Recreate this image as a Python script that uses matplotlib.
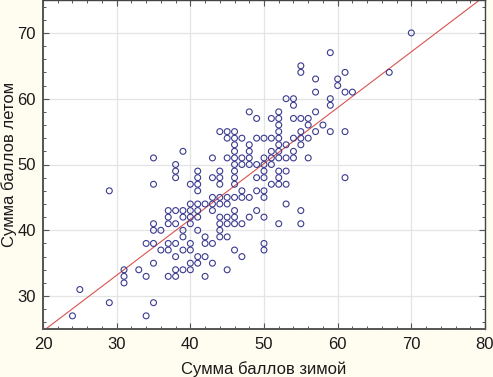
import matplotlib
matplotlib.use("Agg")
import matplotlib.pyplot as plt
from matplotlib.ticker import MultipleLocator

# Data: winter score (x) -> list of summer scores (y)
winter_cols = [24, 25, 29, 31, 33, 34, 35, 36, 37, 38, 39, 40, 41, 42, 43, 44, 45, 46,
               47, 48, 49, 50, 51, 52, 53, 54, 55, 56, 57, 58, 59, 60, 61, 62, 67, 70]
summer_vals = [
    [27],
    [31],
    [29, 46],
    [32, 33, 34],
    [34],
    [27, 33, 38],
    [29, 35, 38, 40, 41, 47, 51],
    [37, 40],
    [33, 37, 38, 41, 42, 43],
    [33, 34, 36, 38, 41, 43, 48, 49, 50],
    [34, 37, 39, 40, 42, 43, 52],
    [34, 35, 37, 38, 41, 42, 43, 44, 47],
    [35, 36, 40, 42, 43, 44, 46, 47, 48, 49],
    [33, 36, 38, 39, 44],
    [35, 38, 43, 44, 45, 48, 51],
    [39, 40, 41, 42, 44, 45, 47, 48, 49, 55],
    [34, 39, 41, 42, 44, 45, 51, 54, 55],
    [37, 41, 42, 43, 45, 47, 48, 49, 50, 51, 52, 53, 54, 55],
    [36, 41, 45, 46, 50, 51, 54],
    [42, 45, 50, 51, 52, 53, 58],
    [43, 46, 48, 50, 54, 57],
    [37, 38, 42, 45, 46, 48, 49, 50, 51, 54],
    [47, 50, 51, 52, 54, 57],
    [41, 47, 48, 49, 51, 52, 53, 54, 55, 56, 57, 58],
    [44, 47, 49, 51, 53, 60],
    [51, 52, 54, 57, 59, 60],
    [41, 43, 53, 54, 55, 57, 64, 65],
    [51, 54, 56, 57],
    [55, 58, 61, 63],
    [56],
    [55, 59, 60, 67],
    [62, 63],
    [48, 55, 61, 64],
    [61],
    [64],
    [70],
]
# regression line (intercept, slope)
fit_intercept = 7.7
fit_slope = 0.849

x_label = "Сумма баллов зимой"
y_label = "Сумма баллов летом"

xs, ys = [], []
for xv, col in zip(winter_cols, summer_vals):
    for yv in col:
        xs.append(xv)
        ys.append(yv)

plt.rcParams['font.family'] = ['Liberation Sans', 'DejaVu Sans']

bg = '#fffcf0'
fig = plt.figure(figsize=(4.93, 3.77), dpi=100, facecolor=bg)
ax = fig.add_axes([43/493, 48/377, 442/493, 329/377])
ax.set_facecolor('white')

ax.set_xlim(20, 80)
ax.set_ylim(25, 75)

ax.xaxis.set_major_locator(MultipleLocator(10))
ax.xaxis.set_minor_locator(MultipleLocator(2))
ax.yaxis.set_major_locator(MultipleLocator(10))
ax.yaxis.set_minor_locator(MultipleLocator(2))

ax.grid(True, which='major', color='#e4e4e4', linewidth=0.9, zorder=0)
ax.set_axisbelow(True)

lx = [20, 80]
ly = [fit_intercept + fit_slope * v for v in lx]
ax.plot(lx, ly, color='#d9534f', linewidth=0.8, zorder=2)

ax.scatter(xs, ys, s=18, facecolors='none', edgecolors='#3b3b90', linewidths=0.8, zorder=3)

for side in ['left', 'bottom']:
    ax.spines[side].set_color('#555555')
    ax.spines[side].set_linewidth(1.4)
for side in ['top', 'right']:
    ax.spines[side].set_color('#444444')
    ax.spines[side].set_linewidth(1.0)

ax.tick_params(which='both', direction='in', top=True, right=True, color='#555555')
ax.tick_params(which='major', length=4, width=0.8, labelsize=12, labelcolor='#1a1a1a')
ax.tick_params(axis='y', which='major', pad=5)
ax.tick_params(axis='x', which='major', pad=6)
ax.tick_params(which='minor', length=2.5, width=0.7)

ax.set_xlabel(x_label, fontsize=12, color='#1a1a1a', labelpad=6)
ax.set_ylabel(y_label, fontsize=12, color='#1a1a1a')
ax.yaxis.set_label_coords((17 - 43) / 442, 0.5)

fig.savefig('out.png', dpi=100, facecolor=bg)
